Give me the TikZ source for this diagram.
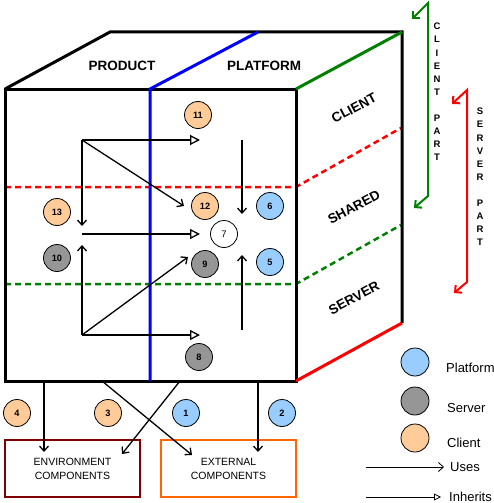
\documentclass[tikz,border=0pt]{standalone}
\usepackage{fontspec}
\setmainfont{Liberation Sans}
\usetikzlibrary{arrows.meta}
\definecolor{platblue}{RGB}{153,204,255}
\definecolor{servgray}{RGB}{150,150,150}
\definecolor{clntorange}{RGB}{255,204,153}
\definecolor{envred}{RGB}{128,0,0}
\definecolor{extorange}{RGB}{255,102,0}
\definecolor{partgreen}{RGB}{0,128,0}
\begin{document}
\begin{tikzpicture}[x=1pt, y=-1pt,
  edge/.style={line width=3pt},
  cut/.style={line width=2.5pt, dash pattern=on 6pt off 4pt},
  num/.style={circle, draw, line width=0.8pt, minimum size=27pt, inner sep=0pt, font=\fontsize{9.2}{10}\selectfont\bfseries},
  plat/.style={num, fill=platblue},
  serv/.style={num, fill=servgray},
  clnt/.style={num, fill=clntorange},
  face/.style={font=\fontsize{13.5}{16}\selectfont\bfseries},
  part/.style={font=\fontsize{9.5}{13.1}\selectfont\bfseries, align=center, inner sep=0pt},
  comp/.style={line width=2.5pt, minimum width=135pt, minimum height=57pt, align=center, font=\fontsize{10.5}{14}\selectfont},
  legend/.style={anchor=west, inner sep=0pt, font=\fontsize{13}{15}\selectfont},
  uses/.style={line width=1.3pt, -{Straight Barb[length=5pt,width=9pt]}},
  inherits/.style={line width=1.3pt, -{Triangle[open,length=10pt,width=10pt,fill=white]}}]
\useasboundingbox (0,0) rectangle (494,503);
\draw[cut, red] (5,187) -- (296,187) -- (401,128);
\draw[cut, partgreen] (5,284) -- (296,284) -- (401,225);
\draw[edge] (5,89) -- (110,32) -- (402,32) -- (402,323);
\draw[edge] (5,89) rectangle (296,381);
\draw[edge, partgreen] (296,89) -- (402,32);
\draw[edge, red] (296,381) -- (402,323);
\draw[edge, blue] (150,381) -- (150,89) -- (258,32);
\node[face] (product) at (122,66) {PRODUCT};
\node[face] (platform) at (264,66) {PLATFORM};
\node[face, rotate=28] (client) at (354,108) {CLIENT};
\node[face, rotate=28] (shared) at (354,207) {SHARED};
\node[face, rotate=28] (server) at (354,298) {SERVER};
\node[clnt] (n11) at (198,115) {11};
\node[clnt] (n12) at (205,206) {12};
\node[plat] (n6) at (270,206) {6};
\node[clnt] (n13) at (57,212) {13};
\node[num, fill=white, font=\fontsize{9.5}{10}\selectfont] (n7) at (224,234) {7};
\node[serv] (n10) at (57,258) {10};
\node[serv] (n9) at (205,264) {9};
\node[plat] (n5) at (270,262) {5};
\node[serv] (n8) at (199,357) {8};
\coordinate (top) at (82,140);
\coordinate (topend) at (200,140);
\coordinate (topdiag) at (184,206);
\coordinate (topdown) at (82,226);
\coordinate (mid) at (82,234);
\coordinate (midend) at (200,234);
\coordinate (bot) at (82,335);
\coordinate (botup) at (82,245);
\coordinate (botdiag) at (188,257);
\coordinate (botend) at (200,335);
\coordinate (rtop) at (242,140);
\coordinate (rtopend) at (242,214);
\coordinate (rbot) at (242,330);
\coordinate (rbotend) at (242,255);
\draw[inherits] (top) -- (topend);
\draw[uses] (top) -- (topdiag);
\draw[uses] (top) -- (topdown);
\draw[inherits] (mid) -- (midend);
\draw[uses] (bot) -- (botup);
\draw[uses] (bot) -- (botdiag);
\draw[inherits] (bot) -- (botend);
\draw[uses] (rtop) -- (rtopend);
\draw[uses] (rbot) -- (rbotend);
\node[comp, draw=envred] (env) at (72.5,468.5) {ENVIRONMENT\\COMPONENTS};
\node[comp, draw=extorange] (ext) at (228.5,468.5) {EXTERNAL\\COMPONENTS};
\node[clnt] (n4) at (17,413) {4};
\node[clnt] (n3) at (108,413) {3};
\node[plat] (n1) at (186,413) {1};
\node[plat] (n2) at (282,413) {2};
\coordinate (out4) at (44,381);
\coordinate (in4) at (44,452);
\coordinate (out3) at (180,381);
\coordinate (in3) at (122,454);
\coordinate (out1) at (102,381);
\coordinate (in1) at (192,455);
\coordinate (out2) at (258,381);
\coordinate (in2) at (258,452);
\draw[uses] (out4) -- (in4);
\draw[uses] (out3) -- (in3);
\draw[uses] (out1) -- (in1);
\draw[uses] (out2) -- (in2);
\coordinate (cp1) at (412,19);
\coordinate (cp2) at (428,3);
\coordinate (cp3) at (428,196);
\coordinate (cp4) at (414,208);
\draw[line width=2pt, partgreen, {Straight Barb[length=5pt,width=10pt]}-{Straight Barb[length=5pt,width=10pt]}] (cp1) -- (cp2) -- (cp3) -- (cp4);
\node[part] (clientpart) at (437,92) {C\\L\\I\\E\\N\\T\\[13.1pt]P\\A\\R\\T};
\coordinate (sp1) at (452,104);
\coordinate (sp2) at (467,90);
\coordinate (sp3) at (467,282);
\coordinate (sp4) at (454,293);
\draw[line width=2pt, red, {Straight Barb[length=5pt,width=10pt]}-{Straight Barb[length=5pt,width=10pt]}] (sp1) -- (sp2) -- (sp3) -- (sp4);
\node[part] (serverpart) at (480,177) {S\\E\\R\\V\\E\\R\\[13.1pt]P\\A\\R\\T};
\node[plat, minimum size=28pt] (lplat) at (415,362) {};
\node[serv, minimum size=28pt] (lserv) at (415,401) {};
\node[clnt, minimum size=28pt] (lclnt) at (415,438) {};
\node[legend] (tplat) at (446,368) {Platform};
\node[legend] (tserv) at (447,408) {Server};
\node[legend] (tclnt) at (447,443) {Client};
\coordinate (u1) at (366,467);
\coordinate (u2) at (444,467);
\coordinate (i1) at (366,497);
\coordinate (i2) at (441,497);
\draw[uses, line width=0.8pt] (u1) -- (u2);
\draw[inherits, line width=0.8pt, -{Triangle[open,length=7pt,width=7pt,fill=white]}] (i1) -- (i2);
\node[legend] (tuses) at (450,467) {Uses};
\node[legend] (tinh) at (449,497) {Inherits};
\end{tikzpicture}
\end{document}
